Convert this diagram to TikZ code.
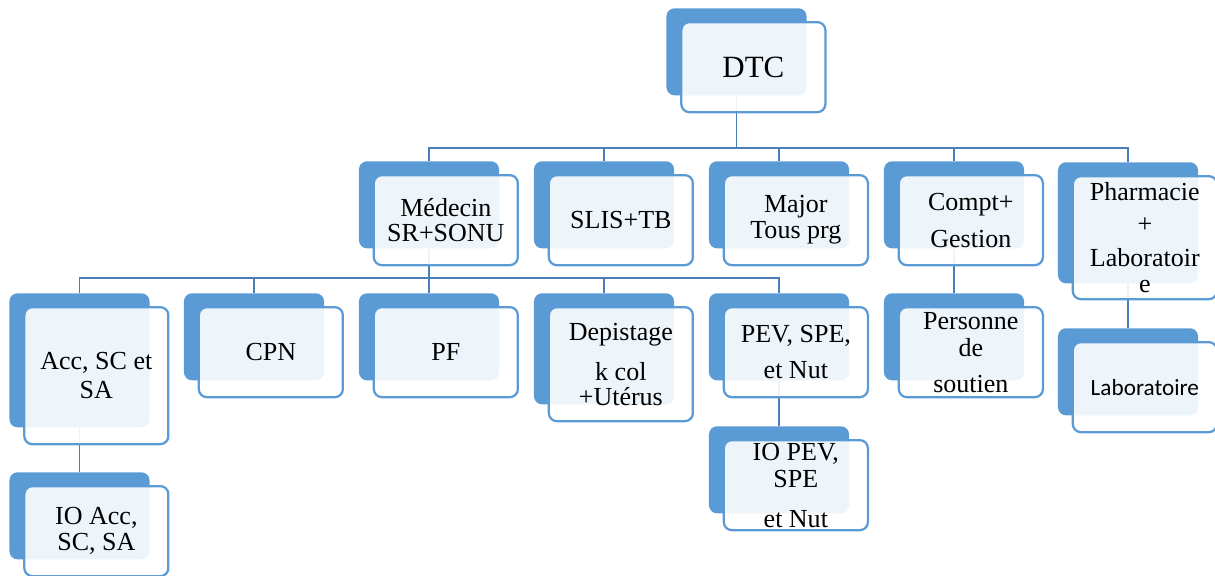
\documentclass[tikz,border=0pt]{standalone}
\usepackage{fontspec}
\setmainfont{Liberation Serif}
\newfontfamily\labfont{Carlito}
\usepackage{xcolor}
\usetikzlibrary{positioning}
\definecolor{backblue}{HTML}{5B9BD5}
\definecolor{edgeblue}{HTML}{5B9BD5}
\definecolor{linkblue}{HTML}{4A7EBB}

\begin{document}
\begin{tikzpicture}[x=0.025cm, y=-0.025cm]
    \tikzstyle{backbox} = [rectangle, rounded corners=0.2cm, fill=backblue, minimum width=3.5cm, minimum height=2.175cm, inner sep=0pt, anchor=north]
    \tikzstyle{frontbox} = [rectangle, rounded corners=0.2cm, draw=edgeblue, line width=1.6pt, fill=white, fill opacity=0.9, text opacity=1, minimum width=3.6cm, minimum height=2.25cm, inner sep=0pt, align=center, anchor=north west, font=\fontsize{18.5}{17.8}\selectfont]
    \tikzstyle{line} = [draw=linkblue, line width=1.3pt]

    \useasboundingbox (0,0) rectangle (1215,575);

    % back plates
    \node [backbox] (dtc-b) at (736.5,8) {};
    \node [backbox] (med-b) at (429,161) {};
    \node [backbox] (slis-b) at (604,161) {};
    \node [backbox] (major-b) at (779,161) {};
    \node [backbox] (compt-b) at (954,161) {};
    \node [backbox, minimum height=3.025cm] (pharma-b) at (1128,162) {};
    \node [backbox, minimum height=3.35cm] (acc-b) at (79.5,293) {};
    \node [backbox] (cpn-b) at (254,293) {};
    \node [backbox] (pf-b) at (429,293) {};
    \node [backbox, minimum height=2.775cm] (dep-b) at (604,293) {};
    \node [backbox] (pev-b) at (779,293) {};
    \node [backbox] (pers-b) at (954,293) {};
    \node [backbox] (ioacc-b) at (79.5,472) {};
    \node [backbox] (iopev-b) at (779,426) {};
    \node [backbox] (lab-b) at (1128,328) {};

    % connectors
    \path [line] (dtc-b.south) -- ++(0,52) -| (med-b.north);
    \path [line] (dtc-b.south) -- ++(0,52) -| (slis-b.north);
    \path [line] (dtc-b.south) -- ++(0,52) -| (major-b.north);
    \path [line] (dtc-b.south) -- ++(0,52) -| (compt-b.north);
    \path [line] (dtc-b.south) -- ++(0,52) -| (pharma-b.north);
    \path [line] (med-b.south) -- ++(0,29) -| (acc-b.north);
    \path [line] (med-b.south) -- ++(0,29) -| (cpn-b.north);
    \path [line] (med-b.south) -- ++(0,29) -| (pf-b.north);
    \path [line] (med-b.south) -- ++(0,29) -| (dep-b.north);
    \path [line] (med-b.south) -- ++(0,29) -| (pev-b.north);
    \path [line] (acc-b.south) -- (ioacc-b.north);
    \path [line] (pev-b.south) -- (iopev-b.north);
    \path [line] (compt-b.south) -- (pers-b.north);
    \path [line] (pharma-b.south) -- (lab-b.north);

    % front cards
    \node [frontbox, font=\fontsize{22}{24}\selectfont] (dtc) at ([shift={(14,13)}]dtc-b.north west) {DTC};
    \node [frontbox] (med) at ([shift={(14,13)}]med-b.north west) {Médecin\\SR+SONU};
    \node [frontbox] (slis) at ([shift={(14,13)}]slis-b.north west) {SLIS+TB};
    \node [frontbox] (major) at ([shift={(14,13)}]major-b.north west) {Major\\[0.7pt]Tous prg};
    \node [frontbox] (compt) at ([shift={(14,13)}]compt-b.north west) {Compt+\\[8.5pt]Gestion};
    \node [frontbox, minimum height=3.075cm] (pharma) at ([shift={(14,13)}]pharma-b.north west) {Pharmacie\\[5pt]+\\[6.4pt]Laboratoir\\[0.7pt]e};
    \node [frontbox, minimum height=3.425cm] (acc) at ([shift={(14,13)}]acc-b.north west) {Acc, SC et\\[2.8pt]SA};
    \node [frontbox] (cpn) at ([shift={(14,13)}]cpn-b.north west) {CPN};
    \node [frontbox] (pf) at ([shift={(14,13)}]pf-b.north west) {PF};
    \node [frontbox, minimum height=2.85cm] (dep) at ([shift={(14,13)}]dep-b.north west) {Depistage\\[10.7pt]k col\\+Utérus};
    \node [frontbox] (pev) at ([shift={(14,13)}]pev-b.north west) {PEV, SPE,\\[7.8pt]et Nut};
    \node [frontbox] (pers) at ([shift={(14,13)}]pers-b.north west) {Personne\\[1.4pt]de\\[7.8pt]soutien};
    \node [frontbox] (ioacc) at ([shift={(14,13)}]ioacc-b.north west) {IO Acc,\\[0.7pt]SC, SA};
    \node [frontbox] (iopev) at ([shift={(14,13)}]iopev-b.north west) {IO PEV,\\[1.4pt]SPE\\[10.7pt]et Nut};
    \node [frontbox, font=\labfont\fontsize{16.5}{18}\selectfont] (lab) at ([shift={(14,13)}]lab-b.north west) {Laboratoire};
\end{tikzpicture}
\end{document}
